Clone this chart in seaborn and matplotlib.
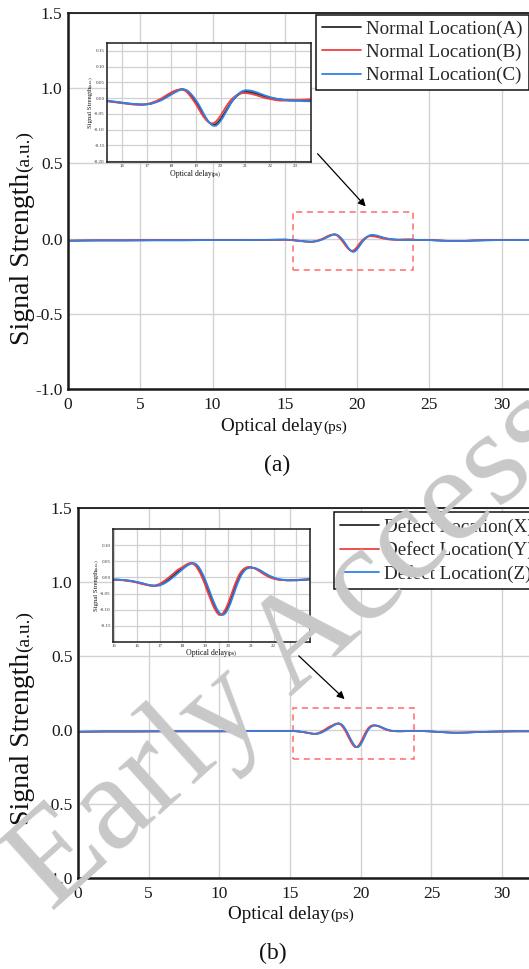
import matplotlib
matplotlib.use("Agg")
import matplotlib.pyplot as plt
from matplotlib.patches import Rectangle
from matplotlib.transforms import IdentityTransform
import numpy as np
import pandas as pd
import seaborn as sns

# ---------------- data ----------------
# optical delay (ps) of the pulse region, shared by all traces
x_wave = [15.0, 15.2, 15.4, 15.6, 15.8, 16.0, 16.2, 16.4, 16.6, 16.8, 17.0, 17.2, 17.4, 17.6, 17.8,
          18.0, 18.1, 18.2, 18.3, 18.4, 18.5, 18.6, 18.7, 18.8, 18.9, 19.0, 19.1, 19.2, 19.3, 19.4,
          19.5, 19.6, 19.7, 19.8, 19.9, 20.0, 20.1, 20.2, 20.3, 20.4, 20.5, 20.6, 20.7, 20.8, 20.9,
          21.0, 21.2, 21.4, 21.6, 21.8, 22.0, 22.2, 22.4, 22.6, 22.8, 23.0, 23.2, 23.4, 23.6]
# baseline before and after the pulse
x_pre = [0.0, 2.0, 4.0, 6.0, 8.0, 10.0, 12.0, 14.0]
x_post = [24.0, 24.5, 25.0, 25.5, 26.0, 26.5, 27.0, 27.5, 28.0, 29.0, 30.0, 31.0, 32.0]

normal_pre = [-0.014, -0.012, -0.012, -0.011, -0.011, -0.010, -0.010, -0.008]
normal_post = [-0.008, -0.009, -0.010, -0.012, -0.014, -0.016, -0.016, -0.015, -0.013, -0.011, -0.010, -0.010, -0.009]
defect_pre = [-0.012, -0.010, -0.010, -0.009, -0.009, -0.009, -0.008, -0.007]
defect_post = [-0.006, -0.008, -0.010, -0.013, -0.016, -0.018, -0.018, -0.017, -0.015, -0.012, -0.010, -0.009, -0.009]

normal_A = [-0.007, -0.008, -0.009, -0.011, -0.013, -0.015, -0.017, -0.019, -0.020, -0.021, -0.020, -0.017, -0.011, -0.004, 0.006,
            0.016, 0.020, 0.023, 0.026, 0.028, 0.028, 0.025, 0.018, 0.009, -0.001, -0.012, -0.025, -0.039, -0.053, -0.065,
            -0.075, -0.082, -0.085, -0.083, -0.076, -0.066, -0.054, -0.041, -0.028, -0.016, -0.006, 0.003, 0.010, 0.015, 0.018,
            0.020, 0.019, 0.015, 0.010, 0.005, 0.001, -0.002, -0.004, -0.006, -0.007, -0.007, -0.007, -0.007, -0.007]
normal_B = [-0.008, -0.009, -0.010, -0.012, -0.014, -0.016, -0.018, -0.020, -0.021, -0.021, -0.019, -0.015, -0.009, -0.001, 0.009,
            0.018, 0.022, 0.025, 0.027, 0.028, 0.026, 0.021, 0.013, 0.003, -0.008, -0.020, -0.033, -0.047, -0.059, -0.069,
            -0.076, -0.080, -0.080, -0.075, -0.066, -0.055, -0.042, -0.029, -0.017, -0.007, 0.001, 0.007, 0.012, 0.015, 0.016,
            0.016, 0.014, 0.010, 0.005, 0.000, -0.003, -0.006, -0.008, -0.008, -0.008, -0.007, -0.006, -0.005, -0.004]
normal_C = [-0.006, -0.007, -0.008, -0.010, -0.012, -0.014, -0.016, -0.018, -0.019, -0.020, -0.020, -0.018, -0.013, -0.007, 0.002,
            0.011, 0.016, 0.020, 0.024, 0.026, 0.027, 0.026, 0.021, 0.013, 0.004, -0.007, -0.019, -0.033, -0.048, -0.062,
            -0.074, -0.083, -0.088, -0.088, -0.082, -0.072, -0.060, -0.046, -0.032, -0.018, -0.006, 0.005, 0.013, 0.019, 0.023,
            0.025, 0.024, 0.020, 0.014, 0.008, 0.003, -0.001, -0.004, -0.006, -0.008, -0.009, -0.009, -0.010, -0.010]

defect_X = [-0.007, -0.007, -0.008, -0.010, -0.012, -0.015, -0.018, -0.022, -0.025, -0.026, -0.023, -0.016, -0.006, 0.006, 0.018,
            0.029, 0.034, 0.039, 0.042, 0.044, 0.043, 0.038, 0.029, 0.017, 0.002, -0.015, -0.034, -0.053, -0.071, -0.088,
            -0.102, -0.112, -0.116, -0.113, -0.104, -0.090, -0.072, -0.052, -0.032, -0.013, 0.003, 0.015, 0.023, 0.028, 0.030,
            0.031, 0.028, 0.021, 0.012, 0.004, -0.002, -0.006, -0.008, -0.009, -0.009, -0.009, -0.008, -0.007, -0.006]
defect_Y = [-0.007, -0.008, -0.009, -0.011, -0.013, -0.016, -0.020, -0.023, -0.026, -0.025, -0.020, -0.011, 0.000, 0.012, 0.024,
            0.032, 0.037, 0.041, 0.044, 0.045, 0.041, 0.034, 0.023, 0.010, -0.006, -0.024, -0.044, -0.062, -0.080, -0.096,
            -0.108, -0.116, -0.116, -0.109, -0.097, -0.081, -0.062, -0.042, -0.022, -0.005, 0.010, 0.020, 0.027, 0.031, 0.033,
            0.032, 0.027, 0.018, 0.009, 0.001, -0.004, -0.007, -0.008, -0.009, -0.009, -0.008, -0.007, -0.006, -0.005]
defect_Z = [-0.006, -0.007, -0.008, -0.009, -0.011, -0.014, -0.017, -0.021, -0.024, -0.026, -0.025, -0.019, -0.010, 0.001, 0.013,
            0.025, 0.031, 0.036, 0.040, 0.043, 0.044, 0.041, 0.034, 0.023, 0.009, -0.007, -0.025, -0.044, -0.063, -0.080,
            -0.096, -0.108, -0.115, -0.116, -0.110, -0.098, -0.082, -0.062, -0.042, -0.022, -0.005, 0.009, 0.019, 0.026, 0.029,
            0.031, 0.029, 0.023, 0.014, 0.006, 0.000, -0.005, -0.007, -0.008, -0.008, -0.008, -0.007, -0.007, -0.006]

normal_labels = ["Normal Location(A)", "Normal Location(B)", "Normal Location(C)"]
defect_labels = ["Defect Location(X)", "Defect Location(Y)", "Defect Location(Z)"]
line_colors = ["#2b2b2b", "#f04040", "#2f80e8"]

main_yticks = [-1.0, -0.5, 0.0, 0.5, 1.0, 1.5]
main_xticks = [0, 5, 10, 15, 20, 25, 30]


def long_table(labels, pre, post, waves):
    rows = []
    for lab, w in zip(labels, waves):
        xs = x_pre + x_wave + x_post
        ys = pre + w + post
        rows.append(pd.DataFrame({"delay": xs, "signal": ys, "trace": lab}))
    return pd.concat(rows, ignore_index=True)


df_normal = long_table(normal_labels, normal_pre, normal_post, [normal_A, normal_B, normal_C])
df_defect = long_table(defect_labels, defect_pre, defect_post, [defect_X, defect_Y, defect_Z])

# ---------------- style ----------------
sns.set_style("white")
plt.rcParams["font.family"] = ["Liberation Serif", "DejaVu Serif"]
plt.rcParams["axes.unicode_minus"] = False

W, H = 529, 969
fig = plt.figure(figsize=(W / 100, H / 100), dpi=100)
fig.patch.set_facecolor("white")


def frac_box(left, top, right, bottom):
    return [left / W, 1 - bottom / H, (right - left) / W, (bottom - top) / H]


def split_label(x_px, y_px, main, small, size_main, size_small, vertical=False):
    """Text whose trailing unit part is set in a smaller size; (x_px, y_px) is the
    centre along the reading direction and the baseline position, in image pixels."""
    r = fig.canvas.get_renderer()
    kw = dict(rotation=90 if vertical else 0, rotation_mode="anchor", ha="left",
              va="baseline", transform=IdentityTransform(), color="#111111")
    t1 = fig.text(0, 0, main, fontsize=size_main, **kw)
    t2 = fig.text(0, 0, small, fontsize=size_small, **kw)
    b1, b2 = t1.get_window_extent(r), t2.get_window_extent(r)
    if vertical:
        l1, l2 = b1.height, b2.height
        y0 = (H - y_px) - (l1 + l2) / 2
        t1.set_position((x_px, y0))
        t2.set_position((x_px, y0 + l1))
    else:
        l1, l2 = b1.width, b2.width
        x0 = x_px - (l1 + l2) / 2
        t1.set_position((x0, H - y_px))
        t2.set_position((x0 + l1, H - y_px))


def style_main(ax):
    ax.set_xlim(0, 31.9)
    ax.set_ylim(-1.0, 1.5)
    ax.set_xticks(main_xticks)
    ax.set_yticks(main_yticks)
    ax.set_yticklabels([f"{v:.1f}" for v in main_yticks])
    ax.grid(True, color="#d2d2d2", lw=1.0)
    ax.set_axisbelow(True)
    ax.spines["right"].set_visible(False)
    for s in ("left", "bottom"):
        ax.spines[s].set_linewidth(1.8)
        ax.spines[s].set_color("#1a1a1a")
    ax.spines["top"].set_linewidth(1.3)
    ax.spines["top"].set_color("#1a1a1a")
    ax.tick_params(direction="in", length=6, width=1.3, labelsize=12.5, colors="#1a1a1a")
    ax.tick_params(axis="x", pad=6)
    ax.tick_params(axis="y", pad=4)
    ax.set_xlabel("")
    ax.set_ylabel("")


def style_inset(ax, xlim, ylim, xticks, yticks):
    ax.set_xlim(*xlim)
    ax.set_ylim(*ylim)
    ax.set_xticks(xticks)
    ax.set_yticks(yticks)
    ax.set_yticklabels([f"{v:.2f}" for v in yticks])
    ax.grid(True, color="#d0d0d0", lw=0.9)
    ax.set_axisbelow(True)
    for s in ax.spines.values():
        s.set_linewidth(1.1)
        s.set_color("#1a1a1a")
    ax.tick_params(direction="in", length=2, width=0.6, labelsize=3.6, pad=1.5, colors="#333333")
    ax.set_xlabel("")
    ax.set_ylabel("")


def draw_traces(ax, df, labels, lw, legend):
    sns.lineplot(data=df, x="delay", y="signal", hue="trace", hue_order=labels,
                 palette=line_colors, estimator=None, sort=False, lw=lw, ax=ax,
                 legend=legend)


def place_legend(ax, anchor):
    h, l = ax.get_legend_handles_labels()
    for hh in h:
        hh.set_linewidth(1.3)
    leg = ax.legend(h, l, loc="upper left", bbox_to_anchor=anchor,
                    borderaxespad=0, borderpad=0.3, handlelength=2.05, handletextpad=0.3,
                    labelspacing=0.3, fontsize=13.7, frameon=True, fancybox=False,
                    edgecolor="#111111", framealpha=1)
    leg.get_frame().set_linewidth(1.1)


# ---------------- panel (a) ----------------
ax_a = fig.add_axes(frac_box(68, 13, 529, 389))
draw_traces(ax_a, df_normal, normal_labels, 1.2, True)
style_main(ax_a)
place_legend(ax_a, ((316 - 68) / 461, (389 - 15) / 376))
ax_a.add_patch(Rectangle((15.6, -0.206), 8.3, 0.386, fill=False, edgecolor="#ff6b6b",
                         lw=1.1, linestyle=(0, (4, 3))))
ax_a.annotate("", xy=(20.73, 0.2), xytext=(17.14, 0.578),
              arrowprops=dict(arrowstyle="-|>", color="black", lw=0.9, mutation_scale=11))

in_a = fig.add_axes(frac_box(107, 43, 311, 162))
draw_traces(in_a, df_normal, normal_labels, 1.3, False)
style_inset(in_a, (15.4, 23.65), (-0.203, 0.175), list(range(16, 24)),
            [-0.20, -0.15, -0.10, -0.05, 0.00, 0.05, 0.10, 0.15])

# ---------------- panel (b) ----------------
ax_b = fig.add_axes(frac_box(78, 508, 529, 878))
draw_traces(ax_b, df_defect, defect_labels, 1.2, True)
style_main(ax_b)
place_legend(ax_b, ((334 - 78) / 451, (878 - 512) / 370))
ax_b.add_patch(Rectangle((15.2, -0.196), 8.6, 0.345, fill=False, edgecolor="#ff6b6b",
                         lw=1.1, linestyle=(0, (4, 3))))
ax_b.annotate("", xy=(19.0, 0.196), xytext=(15.47, 0.514),
              arrowprops=dict(arrowstyle="-|>", color="black", lw=0.9, mutation_scale=11))

in_b = fig.add_axes(frac_box(113, 529, 310, 642))
draw_traces(in_b, df_defect, defect_labels, 1.3, False)
style_inset(in_b, (14.95, 23.6), (-0.2, 0.15), list(range(15, 24)),
            [-0.15, -0.10, -0.05, 0.00, 0.05, 0.10])

# ---------------- axis titles and captions ----------------
split_label(284, 431, "Optical delay", "(ps)", 13.7, 11.0)
split_label(291, 919, "Optical delay", "(ps)", 13.7, 11.0)
split_label(29, 238, "Signal Strength", "(a.u.)", 20, 14, vertical=True)
split_label(29, 718, "Signal Strength", "(a.u.)", 20, 14, vertical=True)

split_label(195, 176, "Optical delay", "(ps)", 5.6, 4.2)
split_label(211, 655, "Optical delay", "(ps)", 5.6, 4.2)
split_label(92, 102, "Signal Strength", "(a.u.)", 4.8, 3.6, vertical=True)
split_label(98, 585, "Signal Strength", "(a.u.)", 4.8, 3.6, vertical=True)

fig.text(277 / W, 1 - 465 / H, "(a)", ha="center", va="center", fontsize=17, color="#111111")
fig.text(273 / W, 1 - 953 / H, "(b)", ha="center", va="center", fontsize=17, color="#111111")

# publisher watermark
fig.text(292 / W, 1 - 652 / H, "Early Access", rotation=42, rotation_mode="anchor",
         ha="center", va="center", fontsize=98, color="#c8c8c8", zorder=50)

fig.savefig("out.png", dpi=100, facecolor="white")
